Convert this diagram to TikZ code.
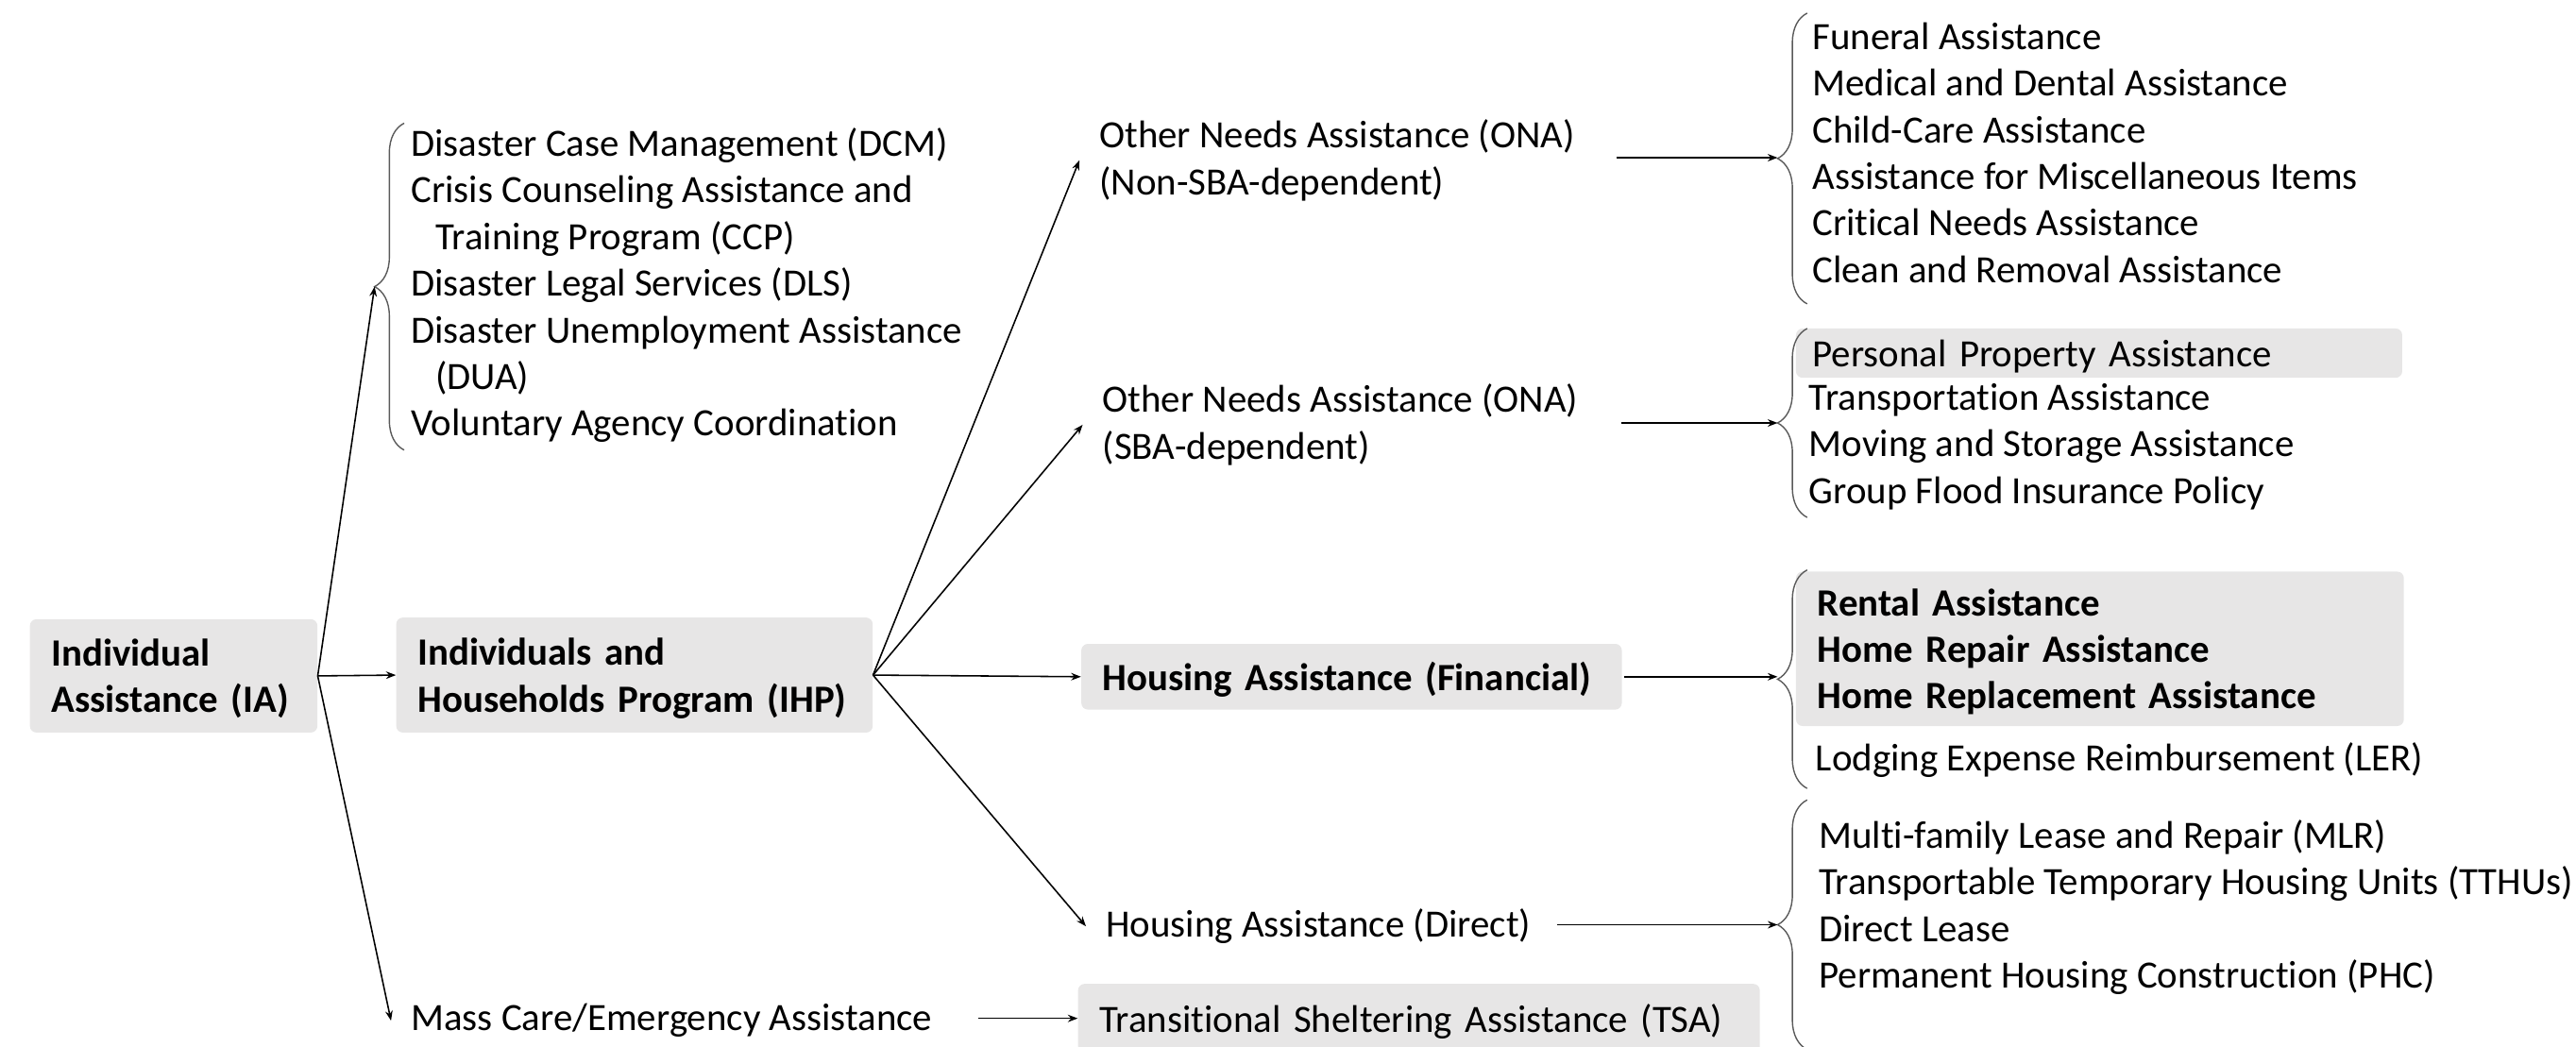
\documentclass[tikz,border=0pt]{standalone}
\usepackage{fontspec}
\setmainfont{Carlito}[Ligatures=NoCommon]
\usetikzlibrary{arrows.meta,decorations.pathreplacing}
\definecolor{boxgray}{RGB}{231,230,230}
\definecolor{bracegray}{RGB}{90,90,90}

\begin{document}
\begin{tikzpicture}[x=1pt, y=-1pt,
        txt/.style={inner xsep=12pt, inner ysep=1pt, align=left, anchor=base west, font=\fontsize{23.5}{28.4}\selectfont},
        box/.style={fill=boxgray, rounded corners=4pt, inner xsep=13pt, inner ysep=0pt, text depth=0pt, align=left, anchor=west, font=\fontsize{23.5}{28.4}\selectfont\bfseries},
        link/.style={-{Stealth[length=6pt, width=4.5pt]}, line width=0.9pt},
        curly/.style={decorate, decoration={brace, amplitude=18pt}, draw=bracegray, line width=0.8pt}]
        \useasboundingbox (0,0) rectangle (1568,637);
        \node[box, text width=149pt, text depth=28.4pt, minimum height=69pt] (ia) at (18,411.5) {Individual\\Assistance (IA)};
        \node[box, text width=264pt, text depth=28.4pt, minimum height=70pt] (ihp) at (241,411) {Individuals and\\Households Program (IHP)};
        \node[txt] (grp) at (238,265.5) {Disaster Case Management (DCM)\\Crisis Counseling Assistance and\\\hspace*{15pt}Training Program (CCP)\\Disaster Legal Services (DLS)\\Disaster Unemployment Assistance\\\hspace*{15pt}(DUA)\\Voluntary Agency Coordination};
        \node[txt] (mass) at (238,627.5) {Mass Care/Emergency Assistance};
        \node[box, font=\fontsize{23.5}{28.4}\selectfont, text width=389pt, minimum height=42pt] (tsa) at (656,620) {Transitional Sheltering Assistance (TSA)};
        \node[txt] (onaa) at (657,118.5) {Other Needs Assistance (ONA)\\(Non-SBA-dependent)};
        \node[txt] (onab) at (659,279.5) {Other Needs Assistance (ONA)\\(SBA-dependent)};
        \node[box, text width=303pt, minimum height=40pt] (hafin) at (658,412) {Housing Assistance (Financial)};
        \node[txt] (hadir) at (661,570.5) {Housing Assistance (Direct)};
        \node[txt] (onaalist) at (1091,172) {Funeral Assistance\\Medical and Dental Assistance\\Child-Care Assistance\\Assistance for Miscellaneous Items\\Critical Needs Assistance\\Clean and Removal Assistance};
        \node[box, font=\fontsize{23.5}{28.4}\selectfont, inner xsep=10pt, text width=349pt, minimum height=30pt] (pp) at (1093,215) {Personal Property Assistance};
        \node[txt] (onablist) at (1089,306.5) {Transportation Assistance\\Moving and Storage Assistance\\Group Flood Insurance Policy};
        \node[box, text width=344pt, text depth=56.8pt, minimum height=94pt] (rent) at (1093,395) {Rental Assistance\\Home Repair Assistance\\Home Replacement Assistance};
        \node[txt] (ler) at (1093,469.5) {Lodging Expense Reimbursement (LER)};
        \node[txt] (dirlist) at (1095,601.5) {Multi-family Lease and Repair (MLR)\\Transportable Temporary Housing Units (TTHUs)\\Direct Lease\\Permanent Housing Construction (PHC)};

        \draw[curly] (246,274) -- (246,75);
        \draw[curly] (1100,185) -- (1100,8);
        \draw[curly] (1100,315) -- (1100,200);
        \draw[curly] (1100,480) -- (1100,347);
        \draw[curly] (1100,639) -- (1100,487);
        \coordinate (b0) at (228,174.5);
        \coordinate (b1) at (1082,96);
        \coordinate (b2) at (1082,257.5);
        \coordinate (b3) at (1082,412);
        \coordinate (b4) at (1082,563);

        \draw[link] (ia.east) -- (ihp.west);
        \draw[link] (ia.east) -- (b0);
        \draw[link] (ia.east) -- (mass.west);
        \draw[link] (ihp.east) -- (onaa.west);
        \draw[link] (ihp.east) -- (onab.west);
        \draw[link] (ihp.east) -- (hafin.west);
        \draw[link] (ihp.east) -- (hadir.west);
        \draw[link, shorten <=13pt] (b1 -| onaa.east) -- (b1);
        \draw[link, shorten <=14pt] (b2 -| onab.east) -- (b2);
        \draw[link, shorten <=1pt] (b3 -| hafin.east) -- (b3);
        \draw[link, shorten <=4pt] (b4 -| hadir.east) -- (b4);
        \draw[link, shorten <=16pt] (tsa.west -| mass.east) -- (tsa.west);
\end{tikzpicture}
\end{document}
